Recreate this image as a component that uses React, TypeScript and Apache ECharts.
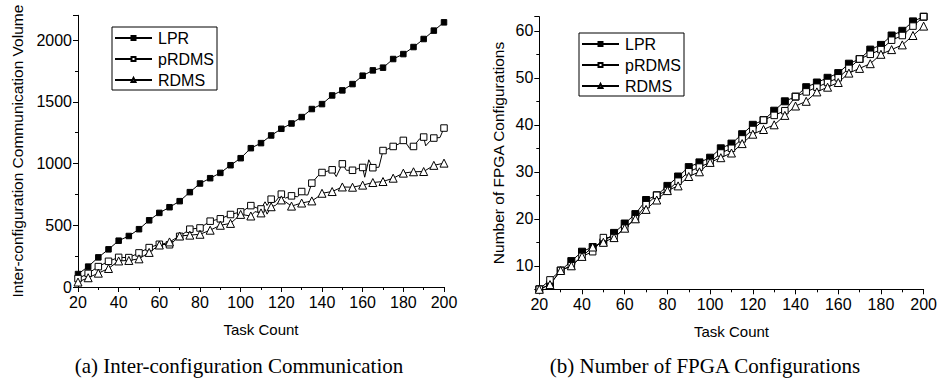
import React, { useEffect, useRef } from "react";
import * as echarts from "echarts";

// ---------- data ----------
const seriesNames = ["LPR", "pRDMS", "RDMS"];

const taskCounts = [
  20, 25, 30, 35, 40, 45, 50, 55, 60, 65, 70, 75, 80, 85, 90, 95, 100, 105, 110,
  115, 120, 125, 130, 135, 140, 145, 150, 155, 160, 165, 170, 175, 180, 185, 190,
  195, 200,
];

// (a) inter-configuration communication volume
const lprComm = [
  105, 165, 240, 305, 375, 413, 468, 540, 600, 646, 695, 768, 838, 881, 924, 986,
  1043, 1124, 1165, 1227, 1281, 1324, 1376, 1441, 1481, 1551, 1592, 1643, 1711,
  1754, 1776, 1846, 1886, 1943, 2008, 2076, 2143,
];

const prdmsCommX = [
  20, 25, 30, 35, 40, 45, 50, 55, 60, 65, 70, 75, 80, 85, 90, 95, 100, 102, 105,
  108, 110, 112, 113, 115, 117, 120, 122, 125, 128, 130, 132, 133, 135, 138, 140,
  142, 145, 147, 150, 152, 155, 158, 160, 161, 163, 165, 168, 170, 172, 175, 178,
  180, 182, 183, 185, 188, 190, 191, 193, 195, 198, 200,
];
const prdmsCommY = [
  68, 110, 165, 208, 240, 238, 276, 319, 346, 342, 410, 468, 478, 533, 552, 587,
  608, 625, 659, 640, 632, 690, 660, 711, 690, 752, 720, 738, 730, 773, 745, 745,
  841, 900, 927, 935, 949, 894, 997, 945, 945, 960, 968, 889, 1030, 966, 970, 1105,
  1115, 1138, 1160, 1187, 1150, 1124, 1138, 1200, 1214, 1143, 1180, 1206, 1210,
  1287,
];

const rdmsCommX = [
  20, 25, 30, 35, 40, 45, 50, 55, 60, 65, 70, 75, 80, 85, 90, 95, 100, 105, 107,
  110, 112, 113, 115, 117, 120, 122, 125, 127, 130, 133, 135, 138, 140, 145, 150,
  155, 160, 165, 170, 175, 180, 185, 190, 195, 200,
];
const rdmsCommY = [
  40, 75, 112, 150, 211, 215, 228, 280, 340, 365, 413, 420, 427, 460, 500, 515,
  588, 575, 610, 600, 630, 590, 650, 660, 705, 690, 655, 665, 680, 690, 697, 730,
  759, 773, 810, 808, 825, 846, 854, 881, 922, 933, 935, 985, 1003,
];

// (b) number of FPGA configurations
const lprConf = [
  5, 6, 9, 11, 13, 14, 15, 17, 19, 21, 24, 25, 27, 29, 31, 32, 33, 35, 36, 38, 40,
  41, 43, 45, 46, 48, 49, 50, 51, 53, 54, 56, 57, 59, 60, 62, 63,
];
const prdmsConf = [
  5, 7, 9, 10, 12, 13, 16, 16, 18, 20, 23, 25, 26, 28, 30, 31, 32, 34, 35, 37, 39,
  41, 42, 43, 46, 47, 48, 49, 50, 52, 54, 55, 56, 58, 59, 61, 63,
];
const rdmsConf = [
  5, 6, 9, 10, 12, 14, 15, 16, 18, 20, 22, 24, 26, 27, 29, 30, 32, 33, 34, 36, 38,
  39, 40, 42, 44, 45, 47, 48, 49, 51, 52, 53, 55, 56, 57, 59, 61,
];

const captionA = "(a) Inter-configuration Communication";
const captionB = "(b) Number of FPGA Configurations";

// ---------- helpers ----------
const SANS = "'Liberation Sans', Arial, sans-serif";
const SERIF = "'Liberation Serif', 'Times New Roman', serif";
const FS = 16;

function pairs(xs: number[], ys: number[]) {
  return xs.map((x, i) => {
    const item: any = { value: [x, ys[i]] };
    if (x % 5 !== 0) item.symbol = "none";
    return item;
  });
}

const black = "#000";

function xAxisCfg(gridIndex: number) {
  return {
    gridIndex,
    type: "value",
    min: 20,
    max: 200,
    interval: 20,
    axisLine: { show: true, onZero: false, lineStyle: { color: black, width: 1 } },
    axisTick: { show: true, inside: false, length: 5, lineStyle: { color: black } },
    minorTick: { show: true, splitNumber: 2, length: 3, lineStyle: { color: black } },
    splitLine: { show: false },
    minorSplitLine: { show: false },
    axisLabel: { color: black, fontSize: FS, fontFamily: SANS, margin: 7 },
    name: "Task Count",
    nameLocation: "middle",
    nameGap: 35,
    nameTextStyle: { color: black, fontSize: 15, fontFamily: SANS },
  };
}

export default function App() {
  const ref = useRef<HTMLDivElement>(null);

  useEffect(() => {
    if (!ref.current) return;
    const chart = echarts.init(ref.current, undefined, { renderer: "svg" });

    const lineStyle = { color: black, width: 1 };
    const openStyle = { color: "#fff", borderColor: black, borderWidth: 1 };
    const fillStyle = { color: black, borderColor: black, borderWidth: 1 };

    const legendBase = {
      data: seriesNames,
      orient: "vertical",
      itemWidth: 37,
      itemHeight: 5,
      itemGap: 5,
      padding: [3, 3, 2, 2],
      borderColor: black,
      borderWidth: 1,
      backgroundColor: "#fff",
      selectedMode: false,
      textStyle: { color: black, fontSize: FS, fontFamily: SANS, padding: [0, 0, 0, 1] },
    };

    const option: any = {
      animation: false,
      backgroundColor: "#fff",
      textStyle: { fontFamily: SANS },
      grid: [
        { left: 78, top: 15.3, width: 366, height: 271.7, containLabel: false },
        { left: 539.3, top: 16.7, width: 386, height: 272.6, containLabel: false },
      ],
      legend: [
        { ...legendBase, left: 112, top: 27 },
        { ...legendBase, left: 579, top: 33 },
      ],
      xAxis: [xAxisCfg(0), xAxisCfg(1)],
      yAxis: [
        {
          gridIndex: 0,
          type: "value",
          min: 0,
          max: 2200,
          interval: 500,
          axisLine: { show: true, onZero: false, lineStyle: { color: black, width: 1 } },
          axisTick: { show: true, inside: false, length: 5, lineStyle: { color: black } },
          minorTick: { show: true, splitNumber: 2, length: 3, lineStyle: { color: black } },
          splitLine: { show: false },
          minorSplitLine: { show: false },
          axisLabel: {
            color: black,
            fontSize: FS,
            fontFamily: SANS,
            margin: 6,
            formatter: (v: number) => (v % 500 === 0 ? String(v) : ""),
          },
          name: "Inter-configuration Communication Volume",
          nameLocation: "middle",
          nameRotate: 90,
          nameGap: 53,
          nameTextStyle: { color: black, fontSize: 15.5, fontFamily: SANS },
        },
        {
          gridIndex: 1,
          type: "value",
          min: 5,
          max: 63,
          splitNumber: 6,
          axisLine: { show: true, onZero: false, lineStyle: { color: black, width: 1 } },
          axisTick: { show: true, inside: false, length: 5, lineStyle: { color: black } },
          minorTick: { show: true, splitNumber: 2, length: 3, lineStyle: { color: black } },
          splitLine: { show: false },
          minorSplitLine: { show: false },
          axisLabel: {
            color: black,
            fontSize: FS,
            fontFamily: SANS,
            margin: 6,
            formatter: (v: number) => (v % 10 === 0 ? String(v) : ""),
          },
          name: "Number of FPGA Configurations",
          nameLocation: "middle",
          nameRotate: 90,
          nameGap: 33,
          nameTextStyle: { color: black, fontSize: 15.5, fontFamily: SANS },
        },
      ],
      series: [
        {
          name: "LPR",
          type: "line",
          xAxisIndex: 0,
          yAxisIndex: 0,
          data: pairs(taskCounts, lprComm),
          symbol: "rect",
          symbolSize: 5.5,
          showAllSymbol: true,
          lineStyle,
          itemStyle: fillStyle,
        },
        {
          name: "pRDMS",
          type: "line",
          xAxisIndex: 0,
          yAxisIndex: 0,
          data: pairs(prdmsCommX, prdmsCommY),
          symbol: "rect",
          symbolSize: 6.5,
          showAllSymbol: true,
          lineStyle,
          itemStyle: openStyle,
        },
        {
          name: "RDMS",
          type: "line",
          xAxisIndex: 0,
          yAxisIndex: 0,
          data: pairs(rdmsCommX, rdmsCommY),
          symbol: "triangle",
          symbolSize: 8,
          showAllSymbol: true,
          lineStyle,
          itemStyle: openStyle,
        },
        {
          name: "LPR",
          type: "line",
          xAxisIndex: 1,
          yAxisIndex: 1,
          data: pairs(taskCounts, lprConf),
          symbol: "rect",
          symbolSize: 7,
          showAllSymbol: true,
          lineStyle,
          itemStyle: fillStyle,
        },
        {
          name: "pRDMS",
          type: "line",
          xAxisIndex: 1,
          yAxisIndex: 1,
          data: pairs(taskCounts, prdmsConf),
          symbol: "rect",
          symbolSize: 6.5,
          showAllSymbol: true,
          lineStyle,
          itemStyle: openStyle,
        },
        {
          name: "RDMS",
          type: "line",
          xAxisIndex: 1,
          yAxisIndex: 1,
          data: pairs(taskCounts, rdmsConf),
          symbol: "triangle",
          symbolSize: 8,
          showAllSymbol: true,
          lineStyle,
          itemStyle: openStyle,
        },
      ],
      graphic: [
        {
          type: "text",
          x: 239,
          y: 366,
          style: {
            text: captionA,
            fontSize: 21,
            fontFamily: SERIF,
            fill: black,
            align: "center",
            verticalAlign: "middle",
          },
        },
        {
          type: "text",
          x: 705,
          y: 366,
          style: {
            text: captionB,
            fontSize: 21,
            fontFamily: SERIF,
            fill: black,
            align: "center",
            verticalAlign: "middle",
          },
        },
      ],
    };

    chart.setOption(option);
    return () => chart.dispose();
  }, []);

  return (
    <div
      ref={ref}
      style={{ position: "fixed", left: 0, top: 0, width: 940, height: 383, background: "#fff" }}
    />
  );
}
